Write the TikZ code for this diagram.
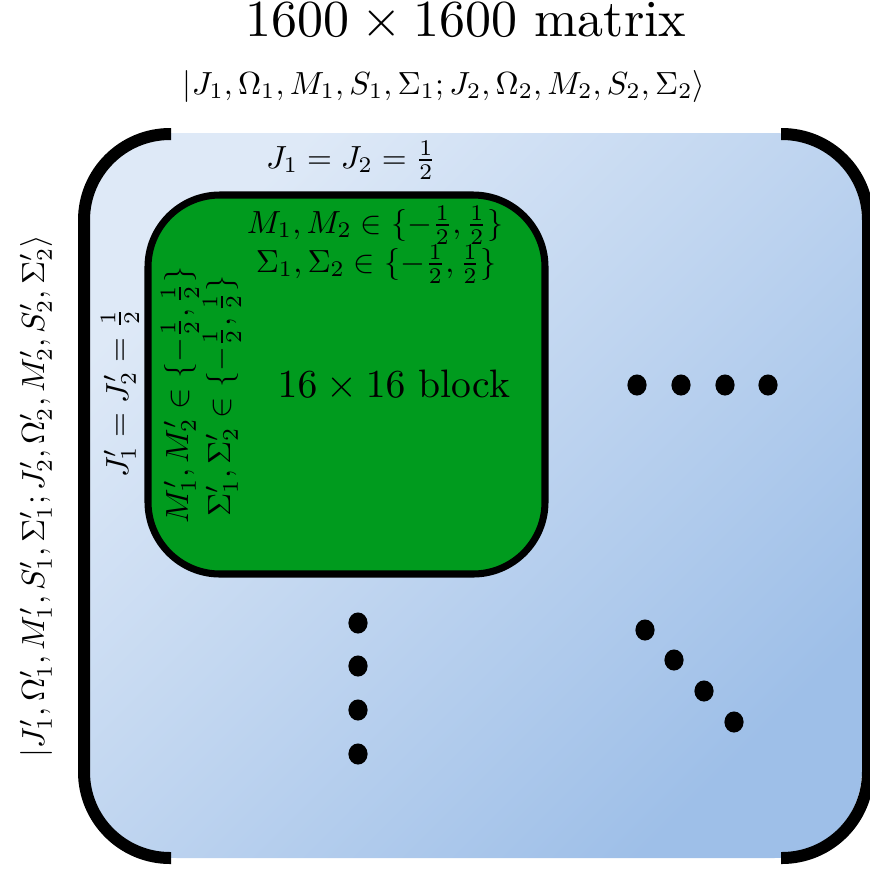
\documentclass[tikz,border=0pt]{standalone}
\usepackage{graphicx}
\definecolor{blockgreen}{RGB}{0,155,30}
\definecolor{lightblue}{RGB}{222,233,247}
\definecolor{darkblue}{RGB}{158,191,232}
\begin{document}
\begin{tikzpicture}[x=0.3125pt,y=-0.3125pt,
  bracketline/.style={line width=3.75pt,rounded corners=26.9pt},
  blockline/.style={line width=2.2pt,fill=blockgreen,rounded corners=22.5pt},
  dotmark/.style={fill=black},
  lbl/.style={inner sep=0pt,font=\normalsize}]
\useasboundingbox (0,0) rectangle (870,869);
% background matrix
\shade[top color=lightblue,bottom color=darkblue,shading angle=45,rounded corners=27.5pt]
  (89,133) rectangle (862,858);
% brackets
\draw[bracketline] (171,134) -- (84,134) -- (84,858) -- (171,858);
\draw[bracketline] (781,134) -- (868,134) -- (868,858) -- (781,858);
% block
\draw[blockline] (148,195) rectangle (545,574);
% dots
\foreach \x in {637,681,725,768} \fill[dotmark] (\x,385) ellipse [x radius=3pt,y radius=3.3pt];
\foreach \y in {623,666,710,754} \fill[dotmark] (358,\y) ellipse [x radius=3pt,y radius=3.3pt];
\foreach \x/\y in {645/630,674/660,704/691,734/722} \fill[dotmark] (\x,\y) ellipse [x radius=3pt,y radius=3.3pt];
% texts
\node[lbl,anchor=base] (title) at (466,36) {\scalebox{1.625}{$1600\times1600$ matrix}};
\node[lbl,anchor=base] (ketrow) at (444,94) {$|J_1,\Omega_1,M_1,S_1,\Sigma_1;J_2,\Omega_2,M_2,S_2,\Sigma_2\rangle$};
\node[lbl,anchor=base] (jrow) at (351,168) {$J_1=J_2=\frac{1}{2}$};
\node[lbl,anchor=base] (mrow) at (375,233) {$M_1,M_2\in\{-\frac{1}{2},\frac{1}{2}\}$};
\node[lbl,anchor=base] (srow) at (376,272) {$\Sigma_1,\Sigma_2\in\{-\frac{1}{2},\frac{1}{2}\}$};
\node[lbl,anchor=base] (blocklabel) at (394,397) {\scalebox{1.24}{$16\times16$ block}};
\node[lbl,rotate=90] (ketcol) at (36,496) {$|J'_1,\Omega'_1,M'_1,S'_1,\Sigma'_1;J'_2,\Omega'_2,M'_2,S'_2,\Sigma'_2\rangle$};
\node[lbl,rotate=90] (jcol) at (120,393) {$J'_1=J'_2=\frac{1}{2}$};
\node[lbl,rotate=90] (mcol) at (180,395) {$M'_1,M'_2\in\{-\frac{1}{2},\frac{1}{2}\}$};
\node[lbl,rotate=90] (scol) at (222,396) {$\Sigma'_1,\Sigma'_2\in\{-\frac{1}{2},\frac{1}{2}\}$};
\end{tikzpicture}
\end{document}
